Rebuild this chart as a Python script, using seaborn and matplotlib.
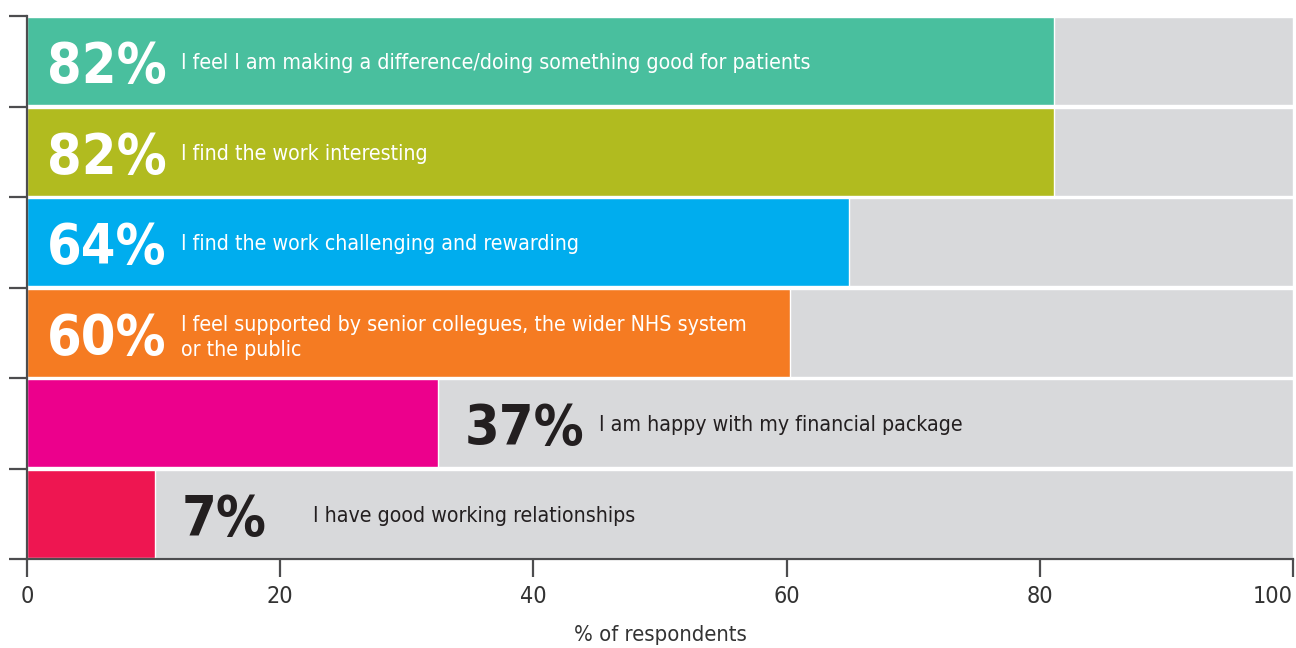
"""Survey bar chart: why respondents stay in their role."""

import matplotlib.pyplot as plt
import numpy as np
import seaborn as sns
from matplotlib import font_manager as fm

statements = [
    "I feel I am making a difference/doing something good for patients",
    "I find the work interesting",
    "I find the work challenging and rewarding",
    "I feel supported by senior collegues, the wider NHS system\nor the public",
    "I am happy with my financial package",
    "I have good working relationships",
]
bar_values = [81.1, 81.1, 64.9, 60.3, 32.5, 10.1]
pct_labels = ["82%", "82%", "64%", "60%", "37%", "7%"]
bar_colors = ["#49BF9E", "#B1BB1F", "#00ADEE", "#F57B22", "#EC008C", "#EE1651"]
x_ticks = [0, 20, 40, 60, 80, 100]

GREY = "#D8D9DB"
AXIS = "#4D4D4F"
DARK = "#231F20"


def pick_font():
    """Prefer a narrow face, as the original uses a condensed sans."""
    fonts = fm.fontManager.ttflist
    names = {f.name for f in fonts}
    if "Liberation Sans Narrow" in names:
        return "Liberation Sans Narrow", "normal", 1.0
    if any(f.name == "DejaVu Sans" and f.stretch == "condensed" for f in fonts):
        return "DejaVu Sans", "condensed", 0.93
    return "Liberation Sans", "normal", 0.9


def main() -> None:
    sns.set_theme(style="ticks")
    family, stretch, scale = pick_font()
    plt.rcParams["font.family"] = [family, "DejaVu Sans"]
    plt.rcParams["font.stretch"] = stretch

    fig = plt.figure(figsize=(12.96, 6.48), dpi=100)
    ax = fig.add_axes([27 / 1296, 1 - 559 / 648, 1266 / 1296, 543 / 648])

    sns.barplot(x=[100] * len(statements), y=statements, orient="h",
                color=GREY, width=0.972, ax=ax, saturation=1)
    sns.barplot(x=bar_values, y=statements, orient="h", hue=statements,
                palette=bar_colors, width=0.972, ax=ax, saturation=1, legend=False)

    for i, (val, pct, text) in enumerate(zip(bar_values, pct_labels, statements)):
        inside = val > 50
        color = "white" if inside else DARK
        x0 = 1.6 if inside else val + 2.1
        gap = 10.6 if pct != "7%" else 10.4
        ax.text(x0, i, pct, ha="left", va="center_baseline", fontsize=43 * scale,
                fontweight="bold", color=color, fontstretch=stretch)
        ax.text(x0 + gap, i, text, ha="left", va="center_baseline",
                fontsize=16.5 * scale, color=color, linespacing=1.3,
                fontstretch=stretch)

    ax.set_xlim(0, 100)
    ax.set_ylim(len(statements) - 0.5, -0.5)
    ax.set_xticks(x_ticks)
    ax.set_xticklabels([str(t) for t in x_ticks], fontsize=18 * scale, color="#333333")
    ax.get_xticklabels()[-1].set_horizontalalignment("right")
    ax.set_yticks(np.arange(-0.5, len(statements), 1))
    ax.set_yticklabels([])
    ax.set_ylabel("")
    ax.set_xlabel("% of respondents", fontsize=17 * scale, color="#333333", labelpad=12)

    ax.tick_params(axis="both", length=13, width=1.6, color=AXIS, direction="out",
                   bottom=True, left=True)
    ax.tick_params(axis="x", pad=6)
    for side in ["top", "right"]:
        ax.spines[side].set_visible(False)
    for side in ["left", "bottom"]:
        ax.spines[side].set_color(AXIS)
        ax.spines[side].set_linewidth(1.6)
        ax.spines[side].set_zorder(5)

    fig.savefig("out.png", dpi=100)
    plt.close(fig)


if __name__ == "__main__":
    main()
